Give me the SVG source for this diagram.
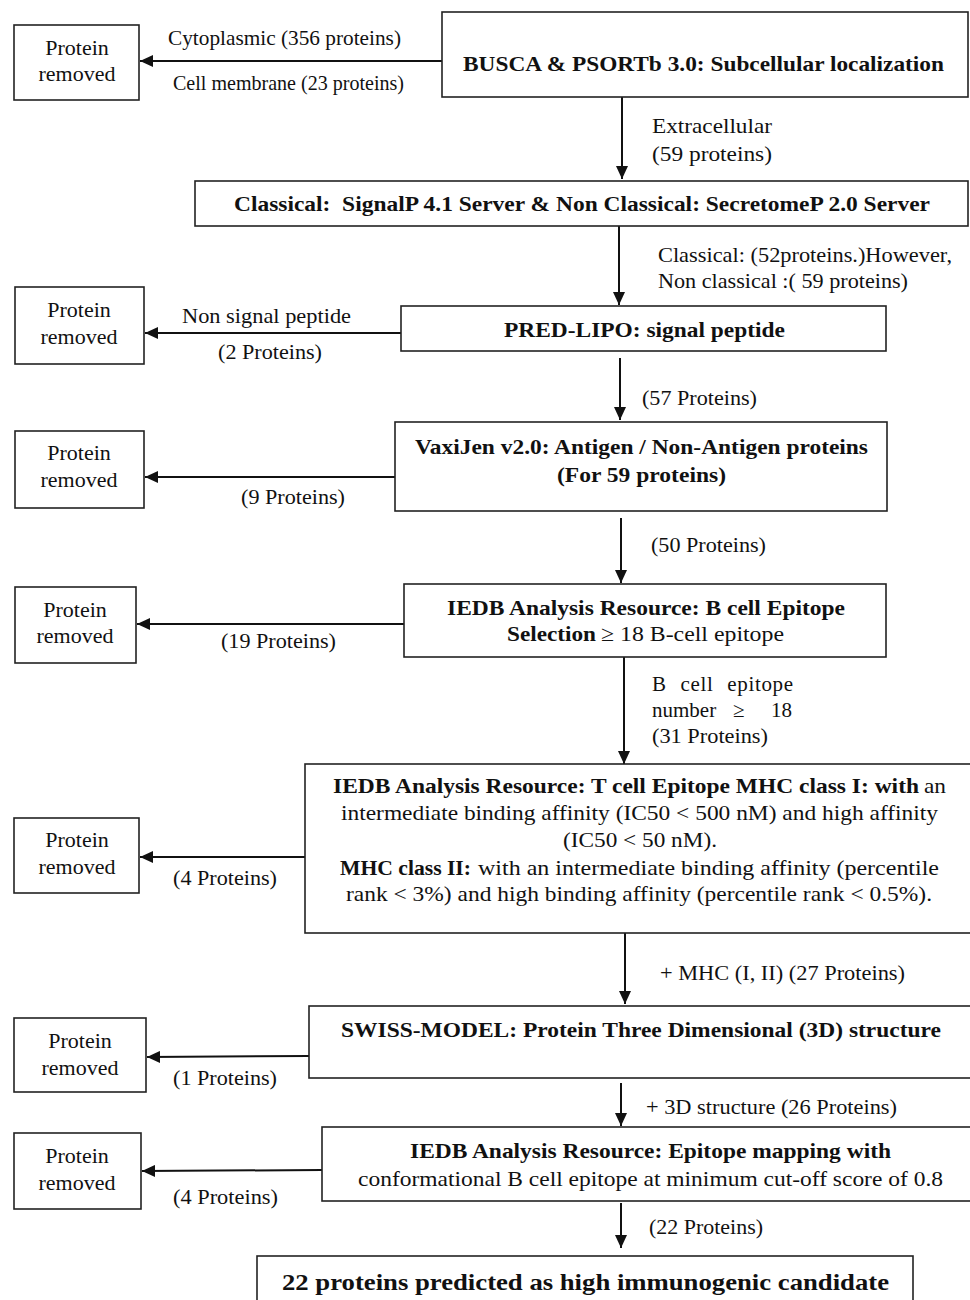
<svg xmlns="http://www.w3.org/2000/svg" width="970" height="1300" viewBox="0 0 970 1300">
<style>
.bx{fill:#fff;stroke:#222;stroke-width:1.6}
.t{font-family:"Liberation Serif","Times New Roman",serif;fill:#111}
.r{font-size:22px}
.b{font-weight:bold;font-size:22px}
.l{font-size:21px}
.c{text-anchor:middle}
.ln{stroke:#111;stroke-width:2;fill:none;marker-end:url(#ah)}
</style>
<defs>
<marker id="ah" markerUnits="userSpaceOnUse" markerWidth="13" markerHeight="12" refX="13" refY="6" orient="auto">
<path d="M0,0 L13,6 L0,12 z" fill="#111"/>
</marker>
</defs>
<rect width="970" height="1300" fill="#fff"/>

<g id="connectors">
<line class="ln" x1="442" y1="61" x2="140" y2="61"/>
<line class="ln" x1="622" y1="97" x2="622" y2="179"/>
<line class="ln" x1="619" y1="226" x2="619" y2="305"/>
<line class="ln" x1="401" y1="333" x2="145" y2="333"/>
<line class="ln" x1="620" y1="358" x2="620" y2="420"/>
<line class="ln" x1="395" y1="477" x2="145" y2="477"/>
<line class="ln" x1="621" y1="518" x2="621" y2="583"/>
<line class="ln" x1="404" y1="624" x2="137" y2="624"/>
<line class="ln" x1="624" y1="657" x2="624" y2="764"/>
<line class="ln" x1="305" y1="857" x2="140" y2="857"/>
<line class="ln" x1="625" y1="933" x2="625" y2="1004"/>
<line class="ln" x1="309" y1="1056" x2="147" y2="1057"/>
<line class="ln" x1="621" y1="1083" x2="621" y2="1126"/>
<line class="ln" x1="322" y1="1170" x2="142" y2="1171"/>
<line class="ln" x1="621" y1="1203" x2="621" y2="1248"/>
<g class="t l">
<text x="168" y="45" textLength="233" lengthAdjust="spacingAndGlyphs">Cytoplasmic (356 proteins)</text>
<text x="173" y="90" textLength="231" lengthAdjust="spacingAndGlyphs">Cell membrane (23 proteins)</text>
<text x="652" y="133" textLength="120" lengthAdjust="spacingAndGlyphs">Extracellular</text>
<text x="652" y="161" textLength="120" lengthAdjust="spacingAndGlyphs">(59 proteins)</text>
<text x="658" y="262" textLength="294" lengthAdjust="spacingAndGlyphs">Classical: (52proteins.)However,</text>
<text x="658" y="288" textLength="250" lengthAdjust="spacingAndGlyphs">Non classical :( 59 proteins)</text>
<text x="182" y="323" textLength="169" lengthAdjust="spacingAndGlyphs">Non signal peptide</text>
<text x="218" y="359" textLength="104" lengthAdjust="spacingAndGlyphs">(2 Proteins)</text>
<text x="642" y="405" textLength="115" lengthAdjust="spacingAndGlyphs">(57 Proteins)</text>
<text x="241" y="504" textLength="104" lengthAdjust="spacingAndGlyphs">(9 Proteins)</text>
<text x="651" y="552" textLength="115" lengthAdjust="spacingAndGlyphs">(50 Proteins)</text>
<text x="221" y="648" textLength="115" lengthAdjust="spacingAndGlyphs">(19 Proteins)</text>
<text x="652" y="691" textLength="141" word-spacing="8">B cell epitope</text>
<text x="652" y="717"><tspan>number</tspan><tspan x="733">≥</tspan><tspan x="771">18</tspan></text>
<text x="652" y="743" textLength="116" lengthAdjust="spacingAndGlyphs">(31 Proteins)</text>
<text x="173" y="885" textLength="104" lengthAdjust="spacingAndGlyphs">(4 Proteins)</text>
<text x="660" y="980" textLength="245" lengthAdjust="spacingAndGlyphs">+ MHC (I, II) (27 Proteins)</text>
<text x="173" y="1085" textLength="104" lengthAdjust="spacingAndGlyphs">(1 Proteins)</text>
<text x="646" y="1114" textLength="251" lengthAdjust="spacingAndGlyphs">+ 3D structure (26 Proteins)</text>
<text x="173" y="1204" textLength="105" lengthAdjust="spacingAndGlyphs">(4 Proteins)</text>
<text x="649" y="1234" textLength="114" lengthAdjust="spacingAndGlyphs">(22 Proteins)</text>
</g>
</g>

<g id="removed1"><rect class="bx" x="14" y="25" width="125" height="75"/><text class="t r c" x="77" y="55">Protein</text><text class="t r c" x="77" y="81">removed</text></g>
<g id="busca"><rect class="bx" x="442" y="12" width="526" height="85"/><text class="t b" x="463" y="71" textLength="481" lengthAdjust="spacingAndGlyphs">BUSCA &amp; PSORTb 3.0: Subcellular localization</text></g>
<g id="classical"><rect class="bx" x="195" y="181" width="773" height="45"/><text class="t b" x="234" y="211" textLength="696" lengthAdjust="spacingAndGlyphs" xml:space="preserve">Classical:  SignalP 4.1 Server &amp; Non Classical: SecretomeP 2.0 Server</text></g>
<g id="removed2"><rect class="bx" x="15" y="287" width="129" height="77"/><text class="t r c" x="79" y="317">Protein</text><text class="t r c" x="79" y="344">removed</text></g>
<g id="predlipo"><rect class="bx" x="401" y="306" width="485" height="45"/><text class="t b" x="504" y="337" textLength="281" lengthAdjust="spacingAndGlyphs">PRED-LIPO: signal peptide</text></g>
<g id="removed3"><rect class="bx" x="15" y="431" width="129" height="77"/><text class="t r c" x="79" y="460">Protein</text><text class="t r c" x="79" y="487">removed</text></g>
<g id="vaxijen"><rect class="bx" x="395" y="422" width="492" height="89"/><text class="t b" x="415" y="454" textLength="453" lengthAdjust="spacingAndGlyphs">VaxiJen v2.0: Antigen / Non-Antigen proteins</text><text class="t b" x="557" y="482" textLength="169" lengthAdjust="spacingAndGlyphs">(For 59 proteins)</text></g>
<g id="removed4"><rect class="bx" x="15" y="587" width="121" height="76"/><text class="t r c" x="75" y="617">Protein</text><text class="t r c" x="75" y="643">removed</text></g>
<g id="bcell"><rect class="bx" x="404" y="584" width="482" height="73"/><text class="t b" x="447" y="615" textLength="398" lengthAdjust="spacingAndGlyphs">IEDB Analysis Resource: B cell Epitope</text><text class="t r" y="641"><tspan class="b" x="507" textLength="89" lengthAdjust="spacingAndGlyphs">Selection</tspan><tspan x="601" textLength="183" lengthAdjust="spacingAndGlyphs">≥ 18 B-cell epitope</tspan></text></g>
<g id="removed5"><rect class="bx" x="14" y="818" width="125" height="75"/><text class="t r c" x="77" y="847">Protein</text><text class="t r c" x="77" y="874">removed</text></g>
<g id="tcell"><rect class="bx" x="305" y="764" width="667" height="169"/>
<text class="t r" y="793"><tspan class="b" x="333" textLength="586" lengthAdjust="spacingAndGlyphs">IEDB Analysis Resource: T cell Epitope MHC class I: with</tspan><tspan x="924" textLength="22" lengthAdjust="spacingAndGlyphs">an</tspan></text>
<text class="t r" x="341" y="820" textLength="597" lengthAdjust="spacingAndGlyphs">intermediate binding affinity (IC50 &lt; 500 nM) and high affinity</text>
<text class="t r" x="563" y="847" textLength="154" lengthAdjust="spacingAndGlyphs">(IC50 &lt; 50 nM).</text>
<text class="t r" y="875"><tspan class="b" x="340" textLength="131" lengthAdjust="spacingAndGlyphs">MHC class II:</tspan><tspan x="478" textLength="461" lengthAdjust="spacingAndGlyphs">with an intermediate binding affinity (percentile</tspan></text>
<text class="t r" x="346" y="901" textLength="586" lengthAdjust="spacingAndGlyphs">rank &lt; 3%) and high binding affinity (percentile rank &lt; 0.5%).</text>
</g>
<g id="removed6"><rect class="bx" x="14" y="1018" width="132" height="74"/><text class="t r c" x="80" y="1048">Protein</text><text class="t r c" x="80" y="1075">removed</text></g>
<g id="swiss"><rect class="bx" x="309" y="1006" width="663" height="72"/><text class="t b" x="341" y="1037" textLength="600" lengthAdjust="spacingAndGlyphs">SWISS-MODEL: Protein Three Dimensional (3D) structure</text></g>
<g id="removed7"><rect class="bx" x="14" y="1133" width="127" height="76"/><text class="t r c" x="77" y="1163">Protein</text><text class="t r c" x="77" y="1190">removed</text></g>
<g id="mapping"><rect class="bx" x="322" y="1127" width="650" height="74"/><text class="t b" x="410" y="1158" textLength="481" lengthAdjust="spacingAndGlyphs">IEDB Analysis Resource: Epitope mapping with</text><text class="t r" x="358" y="1186" textLength="585" lengthAdjust="spacingAndGlyphs">conformational B cell epitope at minimum cut-off score of 0.8</text></g>
<g id="final"><rect class="bx" x="257" y="1256" width="656" height="60"/><text class="t b" x="282" y="1290" style="font-size:24px" textLength="607" lengthAdjust="spacingAndGlyphs">22 proteins predicted as high immunogenic candidate</text></g>
</svg>
